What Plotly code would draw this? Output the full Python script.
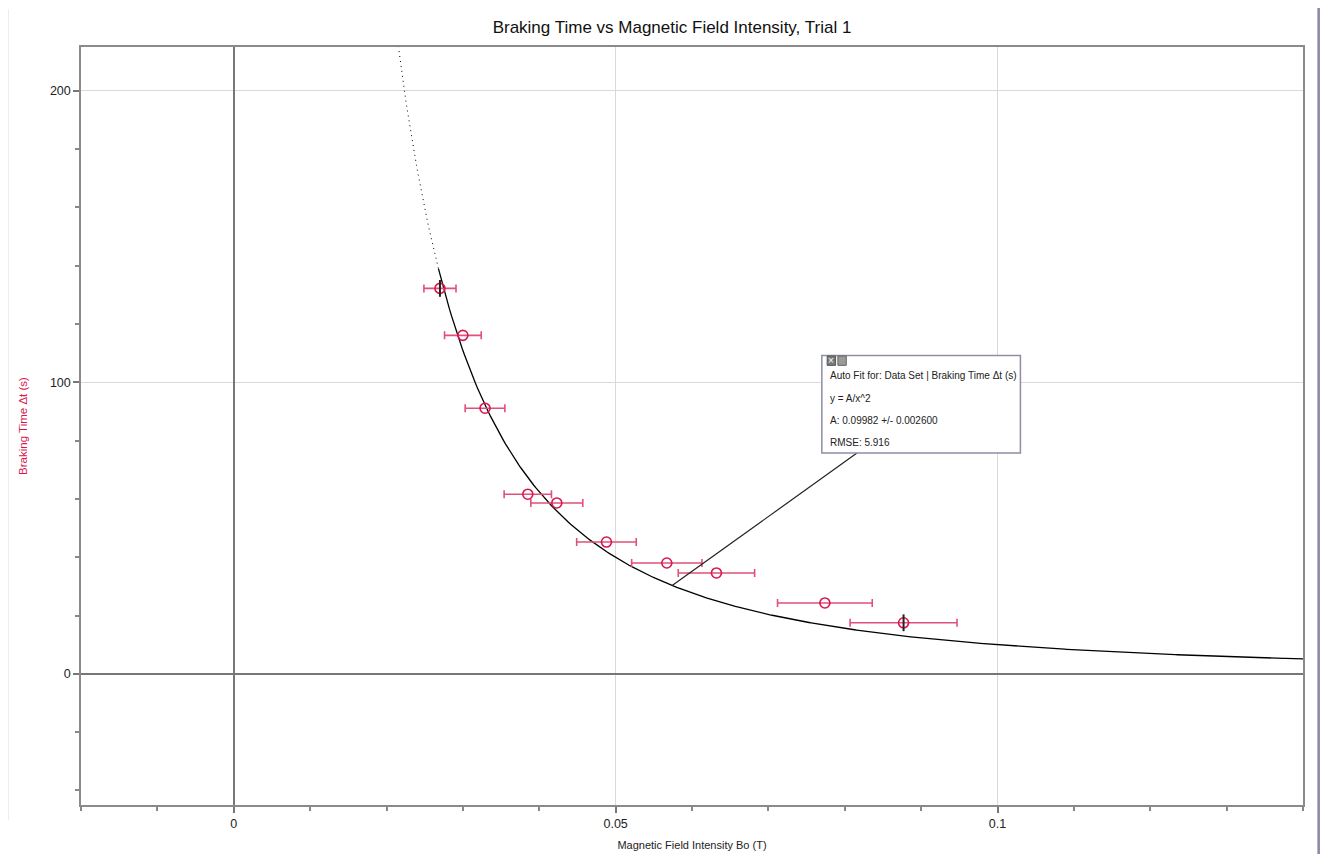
import numpy as np
import plotly.graph_objects as go

# ---- data ----
field_T = [0.0270, 0.0300, 0.0329, 0.0385, 0.0423, 0.0488, 0.0567, 0.0632, 0.0774, 0.0877]
braking_s = [132.2, 116.1, 91.1, 61.6, 58.6, 45.2, 38.0, 34.6, 24.3, 17.5]
field_err = [0.0021, 0.0024, 0.0026, 0.0031, 0.0034, 0.0039, 0.0046, 0.0050, 0.0062, 0.0070]

fit_A = 0.09982          # y = A / x^2
fit_A_err = 0.002600
fit_rmse = 5.916
fit_solid_start = 0.0268
fit_dotted_start = 0.0212
x_max = 0.14
x_min = -0.02
y_min, y_max = -45, 215

x_tickvals = [0, 0.05, 0.1]
x_ticktext = ["0", "0.05", "0.1"]
y_tickvals = [0, 100, 200]
y_ticktext = ["0", "100", "200"]

RED = "#d8174f"
ERR = "#e0507a"
FONT = "Liberation Sans, Arial, sans-serif"

fig = go.Figure()

# fitted curve: dotted extrapolation + solid over fit range
xd = np.linspace(fit_dotted_start, fit_solid_start, 40)
fig.add_trace(go.Scatter(x=xd, y=fit_A / xd**2, mode="lines",
                         line=dict(color="black", width=1, dash="1px,4px"),
                         hoverinfo="skip", showlegend=False))
xs = np.linspace(fit_solid_start, x_max, 400)
fig.add_trace(go.Scatter(x=xs, y=fit_A / xs**2, mode="lines",
                         line=dict(color="black", width=1.3),
                         hoverinfo="skip", showlegend=False))

# data points with horizontal error bars
fig.add_trace(go.Scatter(
    x=field_T, y=braking_s, mode="markers",
    marker=dict(symbol="circle-open", size=10, color=RED, line=dict(width=1.6, color=RED)),
    error_x=dict(type="data", array=field_err, visible=True, color=ERR, thickness=1.6, width=4),
    showlegend=False))

# fit-range brackets at first and last points
fig.add_trace(go.Scatter(
    x=[field_T[0], field_T[-1]], y=[braking_s[0], braking_s[-1]], mode="markers",
    marker=dict(symbol="line-ns-open", size=12, color="#222", line=dict(width=2, color="#222")),
    hoverinfo="skip", showlegend=False))

# ---- annotation box for the fit ----
box_x0, box_x1 = 0.0770, 0.1030
box_y0, box_y1 = 75.7, 109.2
leader_x = 0.0574
shapes = [
    dict(type="line", xref="x", yref="y", x0=leader_x, y0=fit_A / leader_x**2,
         x1=0.0816, y1=box_y0, line=dict(color="#222", width=1.2)),
    dict(type="rect", xref="x", yref="y", x0=box_x0, x1=box_x1, y0=box_y0, y1=box_y1,
         fillcolor="white", line=dict(color="#8e8ea6", width=1.5)),
    dict(type="rect", xref="x", yref="y", x0=0.0777, x1=0.0788, y0=105.8, y1=109.0,
         fillcolor="#7a7a7a", line=dict(color="#555", width=1)),
    dict(type="rect", xref="x", yref="y", x0=0.0791, x1=0.0802, y0=105.8, y1=109.0,
         fillcolor="#9a9a9a", line=dict(color="#666", width=1)),
    # right-side window border
    dict(type="rect", xref="paper", yref="paper", x0=1.0123, x1=1.03, y0=-0.1, y1=1.1,
         fillcolor="#d2cef2", line=dict(width=0), layer="below"),
    dict(type="line", xref="paper", yref="paper", x0=1.0128, x1=1.0128, y0=-0.1, y1=1.1,
         line=dict(color="#8a86a8", width=2.5)),
    dict(type="line", xref="paper", yref="paper", x0=-0.0597, x1=-0.0597, y0=-0.02, y1=1.05,
         line=dict(color="#dddddd", width=1)),
]

texts = [
    ("Auto Fit for: Data Set | Braking Time \u0394t (s)", 102.4),
    ("y = A/x^2", 94.5),
    (f"A: {fit_A} +/- {fit_A_err:.6f}", 87.0),
    (f"RMSE: {fit_rmse}", 79.5),
]
annotations = [dict(x=0.0778, y=yv, xref="x", yref="y", text=t, showarrow=False,
                    xanchor="left", yanchor="middle",
                    font=dict(family=FONT, size=10, color="#222")) for t, yv in texts]
annotations.append(dict(x=0.07825, y=107.4, xref="x", yref="y", text="\u00d7", showarrow=False,
                        font=dict(family=FONT, size=10, color="white")))

fig.update_layout(
    width=1328, height=854,
    margin=dict(l=73, r=33, t=39, b=57),
    paper_bgcolor="white", plot_bgcolor="white",
    title=dict(text="Braking Time vs Magnetic Field Intensity, Trial 1",
               x=0.5, xanchor="center", y=0.9778, yanchor="middle",
               font=dict(family=FONT, size=17, color="#111")),
    shapes=shapes, annotations=annotations,
    xaxis=dict(range=[x_min, x_max], tickvals=x_tickvals, ticktext=x_ticktext,
               showgrid=True, gridcolor="#d9d9d9", gridwidth=1.2,
               zeroline=True, zerolinecolor="#777", zerolinewidth=2,
               showline=True, linecolor="#8a8a8a", linewidth=1.5, mirror=True,
               ticks="outside", ticklen=6, tickcolor="#777", tickwidth=2,
               minor=dict(dtick=0.01, tick0=0, ticks="outside", ticklen=4,
                          tickcolor="#888", tickwidth=1.5, showgrid=False),
               tickfont=dict(family=FONT, size=12.5, color="#222"),
               title=dict(text="Magnetic Field Intensity Bo (T)", standoff=12,
                          font=dict(family=FONT, size=11, color="#222"))),
    yaxis=dict(range=[y_min, y_max], tickvals=y_tickvals, ticktext=y_ticktext,
               showgrid=True, gridcolor="#d9d9d9", gridwidth=1.2,
               zeroline=True, zerolinecolor="#777", zerolinewidth=2,
               showline=True, linecolor="#8a8a8a", linewidth=1.5, mirror=True,
               ticks="outside", ticklen=6, tickcolor="#777", tickwidth=2,
               minor=dict(dtick=20, tick0=0, ticks="outside", ticklen=4,
                          tickcolor="#888", tickwidth=1.5, showgrid=False),
               tickfont=dict(family=FONT, size=12.5, color="#222"),
               title=dict(text="Braking Time \u0394t (s)", standoff=20,
                          font=dict(family=FONT, size=11.5, color=RED))),
)

fig.write_html("out.html")
